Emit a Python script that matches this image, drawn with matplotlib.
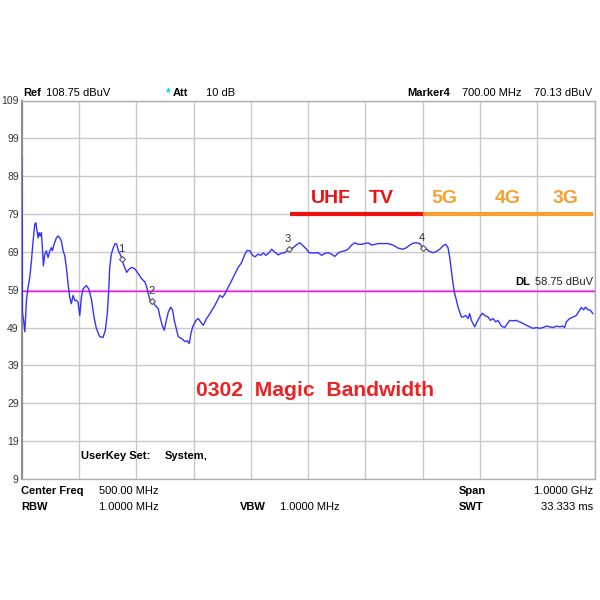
import numpy as np
import matplotlib.pyplot as plt

plt.rcParams['font.family'] = ['Liberation Sans', 'DejaVu Sans']

##########################################################
#                    Spectrum trace data                 #
##########################################################

# Frequency (MHz) and level (dBuV)
freq_mhz = [0, 1, 1.4, 3.8, 5.6, 6.6, 8.4, 11.3, 14.3, 17.1, 20.1, 23, 24.8, 27, 28.8,
            30.5, 32.3, 34.5, 36.3, 38, 40.5, 43.2, 46.2, 49.2, 52, 53.7, 56.7, 60.7,
            63.6, 66.6, 69.4, 72.4, 75.3, 78.1, 81.1, 84, 86.8, 89.8, 92.8, 95.6, 98.5,
            101.5, 104.3, 107.2, 113, 117.2, 121.7, 126.4, 130.4, 136.4, 142.1, 146.1,
            149.6, 152, 153.8, 156.6, 160.1, 163, 166, 168.8, 171.8, 174.7, 177.5, 183.4,
            188, 192.2, 197.9, 203.7, 209.6, 215.4, 218.3, 221.1, 224.1, 227, 228, 232.8,
            238.5, 241.5, 246.2, 249, 252, 256, 260.2, 263.6, 266.4, 270.6, 273.4, 279.3,
            285.1, 289.1, 292.6, 295.6, 298.5, 304.3, 308.3, 312.5, 317, 322.9, 328.7,
            337.4, 343.2, 346.1, 350.8, 354.8, 360.6, 366.5, 372.3, 378, 384, 389.7,
            393.7, 398.4, 403.1, 407.2, 412.9, 417.1, 421.6, 426.3, 432.1, 436.3, 440.8,
            447.8, 453.7, 459.5, 467, 474, 480.9, 485.6, 491.4, 497.3, 501.8, 508.8,
            517.5, 523.5, 529.2, 535, 540.9, 546.7, 552.4, 558.3, 564.1, 569.8, 575.8,
            581.5, 587.3, 593.2, 599, 604.7, 610.6, 616.4, 622.2, 630.9, 639.6, 648.3,
            657, 665.7, 671.7, 677.4, 683.2, 689.1, 694.9, 700, 706.5, 712.3, 718.1, 724,
            729.7, 735.5, 740.2, 744.2, 747.2, 750.1, 753, 755.9, 758.9, 761.7, 764.6,
            767.6, 770.4, 775.1, 779.1, 782.1, 785, 787.8, 790.8, 794.8, 799.5, 804.2,
            808.2, 814, 818.2, 822.7, 827.4, 831.4, 837.3, 843.1, 847.1, 851.8, 857.6,
            863.5, 869.2, 875, 881, 886.7, 892.4, 898.4, 904.1, 909.9, 915.8, 921.6,
            927.3, 933.2, 939, 944.7, 947.7, 950.7, 956.4, 962.2, 968.1, 973.8, 976.8,
            980.8, 984.3, 988.3, 992.5, 997.1]

level_dbuv = [94.1, 75.8, 53.1, 50.5, 47.9, 50.5, 56.2, 59.7, 62.3, 66.6, 71.9, 76.3, 76.7,
              74.5, 72.7, 74.1, 73.2, 74.1, 70.1, 65.3, 68.4, 69.3, 67.5, 69.3, 70.1, 69.3,
              71.0, 72.7, 73.2, 72.7, 71.9, 69.3, 68.0, 64.9, 60.5, 57.0, 55.3, 57.5, 56.2,
              56.2, 55.7, 52.2, 57.0, 59.2, 60.1, 59.2, 56.6, 51.8, 48.8, 46.6, 46.4, 48.3,
              52.7, 58.8, 64.9, 68.4, 70.1, 71.2, 71.0, 69.3, 68.4, 67.4, 65.8, 63.6, 64.5,
              64.9, 64.5, 63.2, 61.9, 61.0, 59.7, 57.9, 56.2, 55.3, 56.0, 54.9, 54.0, 51.8,
              49.2, 48.3, 50.5, 53.1, 54.4, 53.6, 50.9, 48.3, 46.6, 46.1, 45.3, 45.5, 44.8,
              47.5, 49.2, 50.9, 51.4, 50.5, 49.6, 51.4, 52.7, 54.9, 56.6, 57.5, 57.0, 57.9,
              59.7, 61.4, 63.2, 64.9, 66.2, 68.4, 69.4, 69.3, 68.1, 67.7, 68.4, 68.1, 68.7,
              68.1, 68.8, 69.7, 69.1, 68.2, 68.7, 68.8, 69.7, 70.1, 71.0, 71.4, 70.6, 69.7,
              68.8, 68.7, 68.8, 68.1, 68.6, 68.8, 68.4, 67.8, 68.7, 69.1, 69.3, 69.7, 70.8,
              71.4, 71.0, 71.0, 71.2, 71.4, 70.8, 71.0, 71.2, 71.2, 71.2, 70.8, 70.0, 69.7,
              70.1, 70.8, 71.3, 71.4, 71.2, 70.13, 69.7, 69.1, 68.8, 69.1, 69.7, 70.6, 71.0,
              70.1, 67.5, 64.0, 60.5, 57.9, 56.2, 54.4, 53.1, 51.8, 51.8, 52.2, 51.4, 52.7,
              50.9, 50.1, 49.2, 50.5, 51.8, 52.8, 52.2, 51.8, 50.9, 51.4, 50.5, 50.9, 49.4,
              49.0, 49.9, 50.9, 50.8, 50.9, 50.5, 50.1, 49.6, 49.2, 48.8, 49.0, 48.8, 49.0,
              49.4, 49.2, 49.0, 49.4, 49.2, 49.4, 49.0, 50.5, 51.4, 51.8, 52.2, 53.6, 54.3,
              53.7, 54.4, 53.7, 53.6, 52.7]

# Markers
marker_freqs = [175, 228, 467, 700]
marker_names = ['1', '2', '3', '4']

# Display line and reference level
display_line = 58.75
ref_level = 108.75

# Y axis ticks (dBuV)
y_ticks = [9, 19, 29, 39, 49, 59, 69, 79, 89, 99, 109]

# Band bar at 79 dBuV
band_level = 79
uhf_start, uhf_end = 468, 700
cell_start, cell_end = 700, 997

##########################################################
#                     Draw the screen                    #
##########################################################

fig = plt.figure(figsize=(6, 6), dpi=100)
ax = fig.add_axes([0.036, 0.2017, 0.955, 0.6308])

# Grid
ax.set_xlim(0, 1000)
ax.set_ylim(9, 109)
ax.set_xticks(np.arange(0, 1001, 100))
ax.set_yticks(y_ticks)
ax.set_xticklabels([])
ax.set_yticklabels([str(t) for t in y_ticks], fontsize=7.5, color='#333333')
ax.tick_params(length=0, pad=2)
ax.grid(True, color='#c8c8c8', linewidth=1)
for side in ['top', 'right', 'bottom']:
    ax.spines[side].set_color('#b0b0b0')
    ax.spines[side].set_linewidth(1)
ax.spines['left'].set_color('#909090')
ax.spines['left'].set_linewidth(1.5)

# Trace (drawn above the spines so the start spike shows)
ax.plot(freq_mhz, level_dbuv, color='#3333ff', linewidth=1, zorder=3)

# Display line
ax.axhline(display_line, color='#ff00ff', linewidth=1, zorder=2.6)

# Markers
marker_levels = np.interp(marker_freqs, freq_mhz, level_dbuv)
ax.plot(marker_freqs, marker_levels, linestyle='none', marker='D', markersize=3,
        markerfacecolor='white', markeredgecolor='#555555', markeredgewidth=0.8, zorder=4)
for f, lvl, name in zip(marker_freqs, marker_levels, marker_names):
    ax.text(f - 2, lvl + 1.3, name, fontsize=8, ha='center', va='bottom', color='#333333')

# Band bars and labels
ax.plot([uhf_start, uhf_end], [band_level, band_level], color='#ee1111', linewidth=3,
        solid_capstyle='butt')
ax.plot([cell_start, cell_end], [band_level, band_level], color='#f5a030', linewidth=3,
        solid_capstyle='butt')
ax.text(540, 81.8, 'UHF', fontsize=14, fontweight='bold', color='#ee1111', ha='center')
ax.text(627, 81.8, 'TV', fontsize=14, fontweight='bold', color='#ee1111', ha='center')
ax.text(738, 81.8, '5G', fontsize=14, fontweight='bold', color='#f5a030', ha='center')
ax.text(848, 81.8, '4G', fontsize=14, fontweight='bold', color='#f5a030', ha='center')
ax.text(950, 81.8, '3G', fontsize=14, fontweight='bold', color='#f5a030', ha='center')

# Title inside the screen
ax.text(512, 31, '0302  Magic  Bandwidth', fontsize=15.2, fontweight='bold',
        color='#ee2222', ha='center')

# UserKey line
ax.text(103, 14.2, 'UserKey Set:', fontsize=8, fontweight='bold', color='black')
ax.text(249, 14.2, 'System,', fontsize=8, fontweight='bold', color='black')

##########################################################
#                 Header and footer text                 #
##########################################################

def px(x, y):
    '''Converts screen pixel position to figure fraction.'''
    return x / 600, 1 - y / 600

fs = 8

# Display line label
fig.text(*px(515, 285), 'DL', fontsize=fs, fontweight='bold')
fig.text(*px(593, 285), '58.75 dBuV', fontsize=fs, ha='right', color='#222222')

header_y = 96
fig.text(*px(23, header_y), 'Ref', fontsize=fs, fontweight='bold')
fig.text(*px(46, header_y), '108.75 dBuV', fontsize=fs)
fig.text(*px(166, header_y), '*', fontsize=9, fontweight='bold', color='#00dddd')
fig.text(*px(173, header_y), 'Att', fontsize=fs, fontweight='bold')
fig.text(*px(206, header_y), '10 dB', fontsize=fs)
fig.text(*px(407, header_y), 'Marker4', fontsize=fs, fontweight='bold')
fig.text(*px(462, header_y), '700.00 MHz', fontsize=fs)
fig.text(*px(592, header_y), '70.13 dBuV', fontsize=fs, ha='right')

row1_y = 494
row2_y = 510
fig.text(*px(21, row1_y), 'Center Freq', fontsize=fs, fontweight='bold')
fig.text(*px(99, row1_y), '500.00 MHz', fontsize=fs)
fig.text(*px(459, row1_y), 'Span', fontsize=fs, fontweight='bold')
fig.text(*px(593, row1_y), '1.0000 GHz', fontsize=fs, ha='right')
fig.text(*px(21, row2_y), 'RBW', fontsize=fs, fontweight='bold')
fig.text(*px(99, row2_y), '1.0000 MHz', fontsize=fs)
fig.text(*px(240, row2_y), 'VBW', fontsize=fs, fontweight='bold')
fig.text(*px(280, row2_y), '1.0000 MHz', fontsize=fs)
fig.text(*px(459, row2_y), 'SWT', fontsize=fs, fontweight='bold')
fig.text(*px(593, row2_y), '33.333 ms', fontsize=fs, ha='right')

plt.savefig('out.png', dpi=100, facecolor='white')
